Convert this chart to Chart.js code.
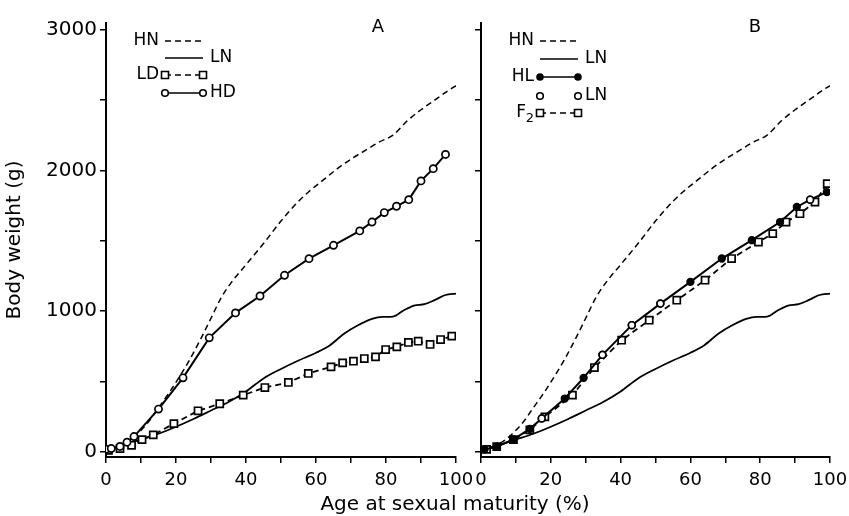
<!DOCTYPE html>
<html lang="en">
<head>
<meta charset="UTF-8" />
<title>Body weight - age at sexual maturity</title>
<script src="https://cdn.jsdelivr.net/npm/chart.js"></script>
<style>
  body { margin: 0; background: #fff; overflow: hidden; }
  #wrap { position: relative; width: 849px; height: 516px; }
  #chartA { position: absolute; left: 0; top: 0; }
  #chartB { position: absolute; left: 470px; top: 0; }
  #xtitle { position: absolute; left: 255px; width: 400px; top: 491px; text-align: center;
            font: 20px 'DejaVu Sans', sans-serif; color: #000; }
</style>
</head>
<body>
<div id="wrap">
  <canvas id="chartA" width="480" height="516"></canvas>
  <canvas id="chartB" width="379" height="516"></canvas>
  <div id="xtitle">Age at sexual maturity (%)</div>
</div>

<script>
  // HN and LN lines (same curves in both panels)
  const hnX = [0, 3, 6, 9, 12, 15, 18, 21, 24, 27, 30, 33, 36, 40, 45, 50, 55, 58, 62, 66, 70, 74, 78, 82, 86, 90, 94, 98, 100];
  const hnY = [20, 35, 70, 130, 210, 315, 420, 535, 660, 800, 950, 1100, 1210, 1330, 1480, 1640, 1780, 1850, 1930, 2010, 2080, 2140, 2200, 2250, 2350, 2430, 2500, 2570, 2600];
  const lnX = [0, 5, 10, 15, 20, 25, 30, 35, 40, 45, 50, 55, 60, 64, 68, 72, 76, 79, 82, 85, 88, 91, 94, 97, 100];
  const lnY = [15, 50, 90, 130, 180, 235, 295, 355, 430, 523, 590, 650, 705, 759, 840, 900, 945, 960, 962, 1005, 1040, 1050, 1080, 1115, 1125];

  // panel A
  const ldX = [0.7, 4, 7.3, 10.3, 13.5, 19.4, 26.3, 32.5, 39.2, 45.4, 52.1, 57.8, 64.3, 67.6, 70.7, 73.8, 77, 79.9, 83.1, 86.4, 89.2, 92.6, 95.6, 98.8];
  const ldY = [12, 25, 48, 88, 122, 202, 293, 343, 404, 458, 494, 558, 605, 633, 645, 664, 676, 728, 747, 778, 787, 764, 799, 823];
  const hdX = [0, 1.5, 4, 6, 8, 15, 22, 29.5, 37, 44, 51, 58, 65, 72.5, 76, 79.5, 83, 86.5, 90, 93.5, 97];
  const hdY = [20, 25, 40, 70, 110, 305, 527, 811, 988, 1108, 1255, 1373, 1468, 1570, 1633, 1700, 1745, 1792, 1925, 2012, 2113];

  // panel B
  const hlX = [1, 4.5, 9.3, 14, 17.4, 24, 29.4, 34.8, 43.2, 51.4, 60, 69, 77.6, 85.7, 90.5, 94.3, 99.1];
  const hlY = [19, 38, 90, 165, 239, 380, 527, 690, 901, 1054, 1208, 1374, 1504, 1633, 1740, 1792, 1846];
  const lnCrossX = [17.4, 34.8, 43.2, 51.4, 94.3];
  const lnCrossY = [239, 690, 901, 1054, 1792];
  const f2X = [1.6, 4.5, 9.3, 14, 18.3, 26.2, 32.5, 40.3, 48.2, 56.1, 64.2, 71.8, 79.5, 83.6, 87.4, 91.4, 95.7, 99.2];
  const f2Y = [19, 38, 88, 158, 250, 404, 600, 794, 936, 1078, 1220, 1374, 1491, 1551, 1633, 1692, 1775, 1906];

  const xTicks = [0, 20, 40, 60, 80, 100];
  const yTicks = [0, 1000, 2000, 3000];
  const yTickMarks = [0, 500, 1000, 1500, 2000, 2500, 3000];

  Chart.defaults.font.family = "'DejaVu Sans', sans-serif";
  Chart.defaults.color = '#000';

  const pts = (xs, ys) => xs.map((x, i) => ({ x, y: ys[i] }));
  const DASH = [6, 4];

  function hnSet() {
    return { data: pts(hnX, hnY), borderColor: '#000', borderWidth: 1.5, borderDash: DASH,
             pointRadius: 0, cubicInterpolationMode: 'monotone', fill: false };
  }
  function lnSet() {
    return { data: pts(lnX, lnY), borderColor: '#000', borderWidth: 1.8,
             pointRadius: 0, cubicInterpolationMode: 'monotone', fill: false };
  }
  function markSet(xs, ys, style, opts) {
    return Object.assign({
      data: pts(xs, ys), borderColor: '#000', borderWidth: 1.8,
      pointStyle: style, pointRadius: style === 'rect' ? 5 : 3.6,
      pointBorderWidth: 1.7, pointBackgroundColor: '#fff', pointBorderColor: '#000', fill: false
    }, opts || {});
  }

  // legend + panel letter
  const panelLegend = {
    id: 'panelLegend',
    afterDraw(chart, args, o) {
      const ctx = chart.ctx, a = chart.chartArea;
      ctx.save();
      ctx.fillStyle = '#000';
      ctx.strokeStyle = '#000';
      ctx.textBaseline = 'middle';
      ctx.font = "18px 'DejaVu Sans', sans-serif";
      ctx.textAlign = 'center';
      ctx.fillText(o.letter, a.left + o.letterDx, a.top + 4);
      ctx.font = "17px 'DejaVu Sans', sans-serif";
      const x1 = a.left + 59, x2 = a.left + 97;
      o.rows.forEach(r => {
        const y = a.top + r.dy;
        if (r.line) {
          ctx.lineWidth = 1.7;
          ctx.setLineDash(r.dash ? DASH : []);
          ctx.beginPath(); ctx.moveTo(x1, y); ctx.lineTo(x2, y); ctx.stroke();
          ctx.setLineDash([]);
        }
        if (r.marker) {
          [x1, x2].forEach(mx => {
            ctx.beginPath();
            if (r.marker === 'rect') ctx.rect(mx - 3.5, y - 3.5, 7, 7);
            else ctx.arc(mx, y, r.marker === 'dot' ? 3 : 3.3, 0, Math.PI * 2);
            ctx.fillStyle = r.marker === 'dot' ? '#000' : '#fff';
            ctx.fill();
            ctx.lineWidth = 1.6;
            ctx.stroke();
          });
          ctx.fillStyle = '#000';
        }
        if (r.left) {
          ctx.textAlign = 'right';
          if (r.sub) {
            ctx.font = "13px 'DejaVu Sans', sans-serif";
            ctx.fillText(r.sub, a.left + 53, y + 6);
            ctx.font = "17px 'DejaVu Sans', sans-serif";
            ctx.fillText(r.left, a.left + 45, y);
          } else {
            ctx.fillText(r.left, a.left + 53, y);
          }
        }
        if (r.right) {
          ctx.textAlign = 'left';
          ctx.fillText(r.right, a.left + 104, y);
        }
      });
      ctx.restore();
    }
  };

  function makeOptions(showY, padRight, legend) {
    return {
      responsive: false,
      animation: false,
      layout: { padding: { top: 23, right: padRight, bottom: 0, left: 0 } },
      plugins: { legend: { display: false }, tooltip: { enabled: false }, panelLegend: legend },
      scales: {
        x: {
          type: 'linear', min: 0, max: 100,
          border: { display: true, color: '#000', width: 2 },
          grid: { drawOnChartArea: false, drawTicks: true, tickLength: 6, color: '#000', lineWidth: 1.5 },
          ticks: {
            stepSize: 10, autoSkip: false, maxRotation: 0, padding: 7,
            font: { size: 18 },
            callback: v => xTicks.includes(v) ? String(v) : ''
          },
          afterFit: s => { s.height = 59; s.paddingLeft = 0; s.paddingRight = 0; }
        },
        y: {
          type: 'linear', min: -35, max: 3046,
          border: { display: true, color: '#000', width: 2 },
          grid: { drawOnChartArea: false, drawTicks: true, tickLength: 6, color: '#000', lineWidth: 1.5 },
          ticks: {
            autoSkip: false, padding: 3,
            font: { size: 20 },
            callback: v => (showY && yTicks.includes(v)) ? String(v) : ''
          },
          afterBuildTicks: s => { s.ticks = yTickMarks.map(v => ({ value: v })); },
          title: {
            display: showY, text: 'Body weight (g)', font: { size: 20 }, padding: { top: 3, bottom: 0 }
          },
          afterFit: s => { s.width = showY ? 106 : 11; s.paddingTop = 0; s.paddingBottom = 0; }
        }
      }
    };
  }

  new Chart(document.getElementById('chartA').getContext('2d'), {
    type: 'line',
    data: {
      datasets: [
        markSet(hdX, hdY, 'circle', { borderWidth: 2 }),
        markSet(ldX, ldY, 'rect', { borderDash: DASH }),
        hnSet(),
        lnSet()
      ]
    },
    options: makeOptions(true, 24, {
      letter: 'A', letterDx: 272,
      rows: [
        { left: 'HN', line: true, dash: true, dy: 18 },
        { right: 'LN', line: true, dy: 35 },
        { left: 'LD', line: true, dash: true, marker: 'rect', dy: 52 },
        { right: 'HD', line: true, marker: 'circle', dy: 70 }
      ]
    }),
    plugins: [panelLegend]
  });

  new Chart(document.getElementById('chartB').getContext('2d'), {
    type: 'line',
    data: {
      datasets: [
        markSet(lnCrossX, lnCrossY, 'circle', { showLine: false, pointRadius: 3.4 }),
        markSet(hlX, hlY, 'circle', { pointBackgroundColor: '#000', pointRadius: 3.3, borderWidth: 2 }),
        markSet(f2X, f2Y, 'rect', { borderDash: DASH }),
        hnSet(),
        lnSet()
      ]
    },
    options: makeOptions(false, 19, {
      letter: 'B', letterDx: 274,
      rows: [
        { left: 'HN', line: true, dash: true, dy: 18 },
        { right: 'LN', line: true, dy: 36 },
        { left: 'HL', line: true, marker: 'dot', dy: 54 },
        { right: 'LN', marker: 'circle', dy: 73 },
        { left: 'F', sub: '2', line: true, dash: true, marker: 'rect', dy: 90 }
      ]
    }),
    plugins: [panelLegend]
  });
</script>
</body>
</html>
